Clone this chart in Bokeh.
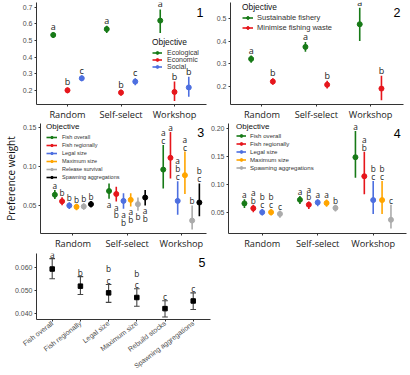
import math
from bokeh.plotting import figure
from bokeh.models import (ColumnDataSource, FixedTicker, Legend, LegendItem, Label,
                          Range1d, PrintfTickFormatter)
from bokeh.layouts import column, row
from bokeh.core.properties import value
from bokeh.embed import file_html
from bokeh.resources import INLINE

# ---------------- data ----------------
groups = ["Random", "Self-select", "Workshop"]

# Panel 1
p1_objectives = ["Ecological", "Economic", "Social"]
p1_mean = [[0.533, 0.568, 0.619], [0.202, 0.188, 0.192], [0.274, 0.254, 0.219]]
p1_low = [[0.515, 0.545, 0.545], [0.184, 0.169, 0.138], [0.256, 0.232, 0.163]]
p1_high = [[0.550, 0.588, 0.686], [0.219, 0.206, 0.254], [0.290, 0.274, 0.283]]
p1_letters = [["a", "a", "a"], ["b", "b", "b"], ["c", "c", "b"]]
p1_side = ["above", "above", "above"]

# Panel 2
p2_objectives = ["Sustainable fishery", "Minimise fishing waste"]
p2_mean = [[0.321, 0.374, 0.474], [0.221, 0.207, 0.190]]
p2_low = [[0.304, 0.353, 0.400], [0.207, 0.190, 0.139]]
p2_high = [[0.336, 0.396, 0.547], [0.236, 0.224, 0.247]]
p2_letters = [["a", "a", "a"], ["b", "b", "b"]]
p2_side = ["above", "above", "above"]

# Panel 3
p3_objectives = ["Fish overall", "Fish regionally", "Legal size", "Maximum size",
                 "Release survival", "Spawning aggregations"]
p3_mean = [[0.0636, 0.0684, 0.0960], [0.0552, 0.0646, 0.1112], [0.0497, 0.0557, 0.0557],
           [0.0480, 0.0570, 0.0888], [0.0485, 0.0515, 0.0303], [0.0515, 0.0600, 0.0536]]
p3_low = [[0.0580, 0.0583, 0.0718], [0.0500, 0.0549, 0.0845], [0.0451, 0.0456, 0.0379],
          [0.0435, 0.0485, 0.0646], [0.0443, 0.0430, 0.0189], [0.0472, 0.0498, 0.0358]]
p3_high = [[0.0697, 0.0782, 0.1277], [0.0605, 0.0739, 0.1446], [0.0540, 0.0655, 0.0811],
           [0.0520, 0.0655, 0.1193], [0.0528, 0.0600, 0.0498], [0.0557, 0.0697, 0.0782]]
p3_letters = [["a", "a", "a\nc"], ["b", "a\nb", "a"], ["b", "a\nb", "a\nb\nc"],
              ["b", "a\nb", "a\nc"], ["b", "b", "b"], ["b", "a\nb", "b\nc"]]
p3_side = ["above", "below", "above"]

# Panel 4
p4_objectives = ["Fish overall", "Fish regionally", "Legal size", "Maximum size",
                 "Spawning aggregations"]
p4_mean = [[0.0669, 0.0733, 0.1492], [0.0582, 0.0646, 0.1153], [0.0512, 0.0687, 0.0728],
           [0.0512, 0.0675, 0.0728], [0.0482, 0.0588, 0.0377]]
p4_low = [[0.0588, 0.0658, 0.1124], [0.0512, 0.0570, 0.0833], [0.0453, 0.0617, 0.0482],
          [0.0453, 0.0611, 0.0482], [0.0412, 0.0523, 0.0220]]
p4_high = [[0.0745, 0.0803, 0.1959], [0.0646, 0.0704, 0.1591], [0.0570, 0.0745, 0.1066],
           [0.0570, 0.0739, 0.1066], [0.0541, 0.0646, 0.0646]]
p4_letters = [["a", "a", "a"], ["a\nb", "a\nb", "a\nb"], ["b\nc", "a", "b\nc"],
              ["b\nc", "a", "b\nc"], ["c", "b", "c"]]
p4_side = ["above", "above", "above"]

# Panel 5
p5_categories = ["Fish overall", "Fish regionally", "Legal size", "Maximum size",
                 "Rebuild stocks", "Spawning aggregations"]
p5_mean = [0.0592, 0.0518, 0.0489, 0.0469, 0.0421, 0.0454]
p5_low = [0.0550, 0.0482, 0.0448, 0.0431, 0.0385, 0.0417]
p5_high = [0.0637, 0.0559, 0.0525, 0.0507, 0.0455, 0.0489]
p5_letters = ["a", "b", "b\nc", "b\nc", "c", "c"]

# ---------------- styles ----------------
GREEN = "#177a17"
RED = "#e6161c"
BLUE = "#4d6fe0"
ORANGE = "#ffa500"
GRAY = "#ababab"
BLACK = "#000000"

TICK_FONT = "Liberation Sans"
CAT_FONT = "Open Sans"


def make_fig(w, h, xr, yr, borders, yticks, yfmt):
    l, r, t, b = borders
    p = figure(width=w, height=h, x_range=Range1d(*xr), y_range=Range1d(*yr),
               output_backend="svg", toolbar_location=None,
               min_border_left=l, min_border_right=r, min_border_top=t,
               min_border_bottom=b)
    p.xgrid.visible = False
    p.ygrid.visible = False
    p.outline_line_color = None
    p.background_fill_color = "white"
    p.border_fill_color = "white"
    for ax in (p.xaxis[0], p.yaxis[0]):
        ax.axis_line_color = "#333333"
        ax.axis_line_width = 1
        ax.major_tick_line_color = "#333333"
        ax.major_tick_out = 2
        ax.major_tick_in = 0
        ax.minor_tick_out = 0
        ax.minor_tick_in = 0
        ax.minor_tick_line_color = None
        ax.major_label_standoff = 2
    p.yaxis[0].ticker = FixedTicker(ticks=yticks)
    p.yaxis[0].formatter = PrintfTickFormatter(format=yfmt)
    p.yaxis[0].major_label_text_font = TICK_FONT
    p.yaxis[0].major_label_text_font_size = "7px"
    p.yaxis[0].major_label_text_color = "#4d4d4d"
    return p


def group_axis(p):
    ax = p.xaxis[0]
    ax.ticker = FixedTicker(ticks=[1, 2, 3])
    ax.major_label_overrides = {i + 1: g for i, g in enumerate(groups)}
    ax.major_label_text_font = CAT_FONT
    ax.major_label_text_font_size = "9.2px"
    ax.major_label_text_color = "#1a1a1a"
    ax.major_label_standoff = 1


def pointranges(p, objectives, colors, mean, low, high, letters, side, line_h,
                letter_size="8.5px"):
    n = len(objectives)
    items = []
    for i, obj in enumerate(objectives):
        off = (i - (n - 1) / 2) * 0.8 / n
        xs = [g + 1 + off for g in range(len(groups))]
        src = ColumnDataSource(dict(x=xs, m=mean[i], lo=low[i], hi=high[i]))
        seg = p.segment(x0="x", y0="lo", x1="x", y1="hi", source=src,
                        line_color=colors[i], line_width=1.6)
        pt = p.scatter(x="x", y="m", source=src, size=5, marker="circle",
                       fill_color=colors[i], line_color=colors[i])
        items.append(LegendItem(label=obj, renderers=[seg, pt]))
        up = [k for k in range(len(groups)) if side[k] == "above"]
        dn = [k for k in range(len(groups)) if side[k] == "below"]
        if up:
            p.text(x=[xs[k] for k in up], y=[high[i][k] for k in up],
                   text=[letters[i][k] for k in up], text_align="center",
                   text_baseline="bottom", y_offset=1, text_font=value(CAT_FONT),
                   text_font_size=letter_size, text_color="#1a1a1a",
                   text_line_height=line_h)
        if dn:
            p.text(x=[xs[k] for k in dn], y=[low[i][k] for k in dn],
                   text=[letters[i][k] for k in dn], text_align="center",
                   text_baseline="top", y_offset=0, text_font=value(CAT_FONT),
                   text_font_size=letter_size, text_color="#1a1a1a",
                   text_line_height=line_h)
    return items


def add_legend(p, items, loc, title_size, label_size, glyph_w, row_h, standoff,
               title_standoff, spacing):
    leg = Legend(items=items, location=loc, title="Objective",
                 title_text_font=TICK_FONT, title_text_font_size=title_size,
                 title_text_font_style="normal", title_text_color="#111111",
                 title_standoff=title_standoff,
                 label_text_font=TICK_FONT, label_text_font_size=label_size,
                 label_text_color="#333333",
                 glyph_width=glyph_w, glyph_height=row_h, label_height=row_h,
                 label_width=10, label_standoff=standoff, spacing=spacing,
                 padding=1, margin=0, border_line_color=None,
                 background_fill_alpha=0)
    p.add_layout(leg, "center")


def panel_number(p, x, y, txt):
    p.add_layout(Label(x=x, y=y, text=txt, text_align="center",
                       text_baseline="middle", text_font=TICK_FONT,
                       text_font_size="12.5px", text_color="#000000"))


# ---------------- panel 1 ----------------
p1 = make_fig(207, 123, (0.4206, 3.598), (0.1169, 0.7273), (36, 1, 2, 16),
              [0.2, 0.3, 0.4, 0.5, 0.6, 0.7], "%.1f")
group_axis(p1)
it1 = pointranges(p1, p1_objectives, [GREEN, RED, BLUE], p1_mean, p1_low, p1_high,
                  p1_letters, p1_side, 0.8, "9px")
add_legend(p1, it1, (116, 34), "8.4px", "7px", 10, 7, 5, 2, 0)
panel_number(p1, 3.477, 0.6692, "1")

# ---------------- panel 2 ----------------
p2 = make_fig(203, 123, (0.42, 3.606), (0.1197, 0.570), (23, 7, 2, 16),
              [0.2, 0.3, 0.4, 0.5], "%.1f")
group_axis(p2)
it2 = pointranges(p2, p2_objectives, [GREEN, RED], p2_mean, p2_low, p2_high,
                  p2_letters, p2_side, 0.8, "9px")
add_legend(p2, it2, (12, 72), "8.4px", "7.5px", 11, 7, 4, 1, 1)
panel_number(p2, 3.486, 0.525, "2")

# ---------------- panel 3 ----------------
p3 = make_fig(207, 129, (0.4018, 3.465), (0.01367, 0.1554), (36, 1, 0, 17),
              [0.05, 0.10, 0.15], "%.2f")
group_axis(p3)
p3.yaxis[0].axis_label = "Preference weight"
p3.yaxis[0].axis_label_text_font = CAT_FONT
p3.yaxis[0].axis_label_text_font_size = "10px"
p3.yaxis[0].axis_label_text_font_style = "normal"
p3.yaxis[0].axis_label_text_color = "#111111"
p3.yaxis[0].axis_label_standoff = 2
it3 = pointranges(p3, p3_objectives, [GREEN, RED, BLUE, ORANGE, GRAY, BLACK],
                  p3_mean, p3_low, p3_high, p3_letters, p3_side, 0.72, "8.3px")
add_legend(p3, it3, (6, 53), "8px", "5.5px", 11, 6, 5, 3, 2)
panel_number(p3, 3.357, 0.1444, "3")

# ---------------- panel 4 ----------------
p4 = make_fig(203, 129, (0.393, 3.60), (0.01325, 0.2093), (21, 4, 0, 17),
              [0.05, 0.10, 0.15, 0.20], "%.2f")
group_axis(p4)
it4 = pointranges(p4, p4_objectives, [GREEN, RED, BLUE, ORANGE, GRAY],
                  p4_mean, p4_low, p4_high, p4_letters, p4_side, 0.72, "8.3px")
add_legend(p4, it4, (8, 62), "8px", "6.1px", 10, 7, 4, 1, 1)
panel_number(p4, 3.433, 0.1913, "4")

# ---------------- panel 5 ----------------
p5 = make_fig(212, 123, (0.443, 6.613), (0.0374, 0.0659), (36, 2, 1, 53),
              [0.040, 0.050, 0.060], "%.3f")
ax5 = p5.xaxis[0]
ax5.ticker = FixedTicker(ticks=list(range(1, len(p5_categories) + 1)))
ax5.major_label_overrides = {i + 1: c for i, c in enumerate(p5_categories)}
ax5.major_label_orientation = 0.65
ax5.major_label_text_font = TICK_FONT
ax5.major_label_text_font_size = "7px"
ax5.major_label_text_color = "#4d4d4d"
ax5.major_label_standoff = 1
x5 = list(range(1, len(p5_categories) + 1))
src5 = ColumnDataSource(dict(x=x5, m=p5_mean, lo=p5_low, hi=p5_high,
                             xl=[v - 0.1 for v in x5], xr=[v + 0.1 for v in x5],
                             lab=p5_letters))
p5.segment(x0="x", y0="lo", x1="x", y1="hi", source=src5, line_color="#444444",
           line_width=1.1)
p5.segment(x0="xl", y0="lo", x1="xr", y1="lo", source=src5, line_color="#444444",
           line_width=1.1)
p5.segment(x0="xl", y0="hi", x1="xr", y1="hi", source=src5, line_color="#444444",
           line_width=1.1)
p5.scatter(x="x", y="m", source=src5, marker="square", size=4.5,
           fill_color=BLACK, line_color=BLACK)
p5.text(x="x", y="hi", text="lab", source=src5, text_align="center",
        text_baseline="bottom", y_offset=1.5, text_font=value(CAT_FONT),
        text_font_size="8.3px", text_color="#1a1a1a", text_line_height=1.05)
panel_number(p5, 6.312, 0.0620, "5")

layout = column(row(p1, p2), row(p3, p4), p5)
open("out.html", "w").write(file_html(layout, INLINE))
